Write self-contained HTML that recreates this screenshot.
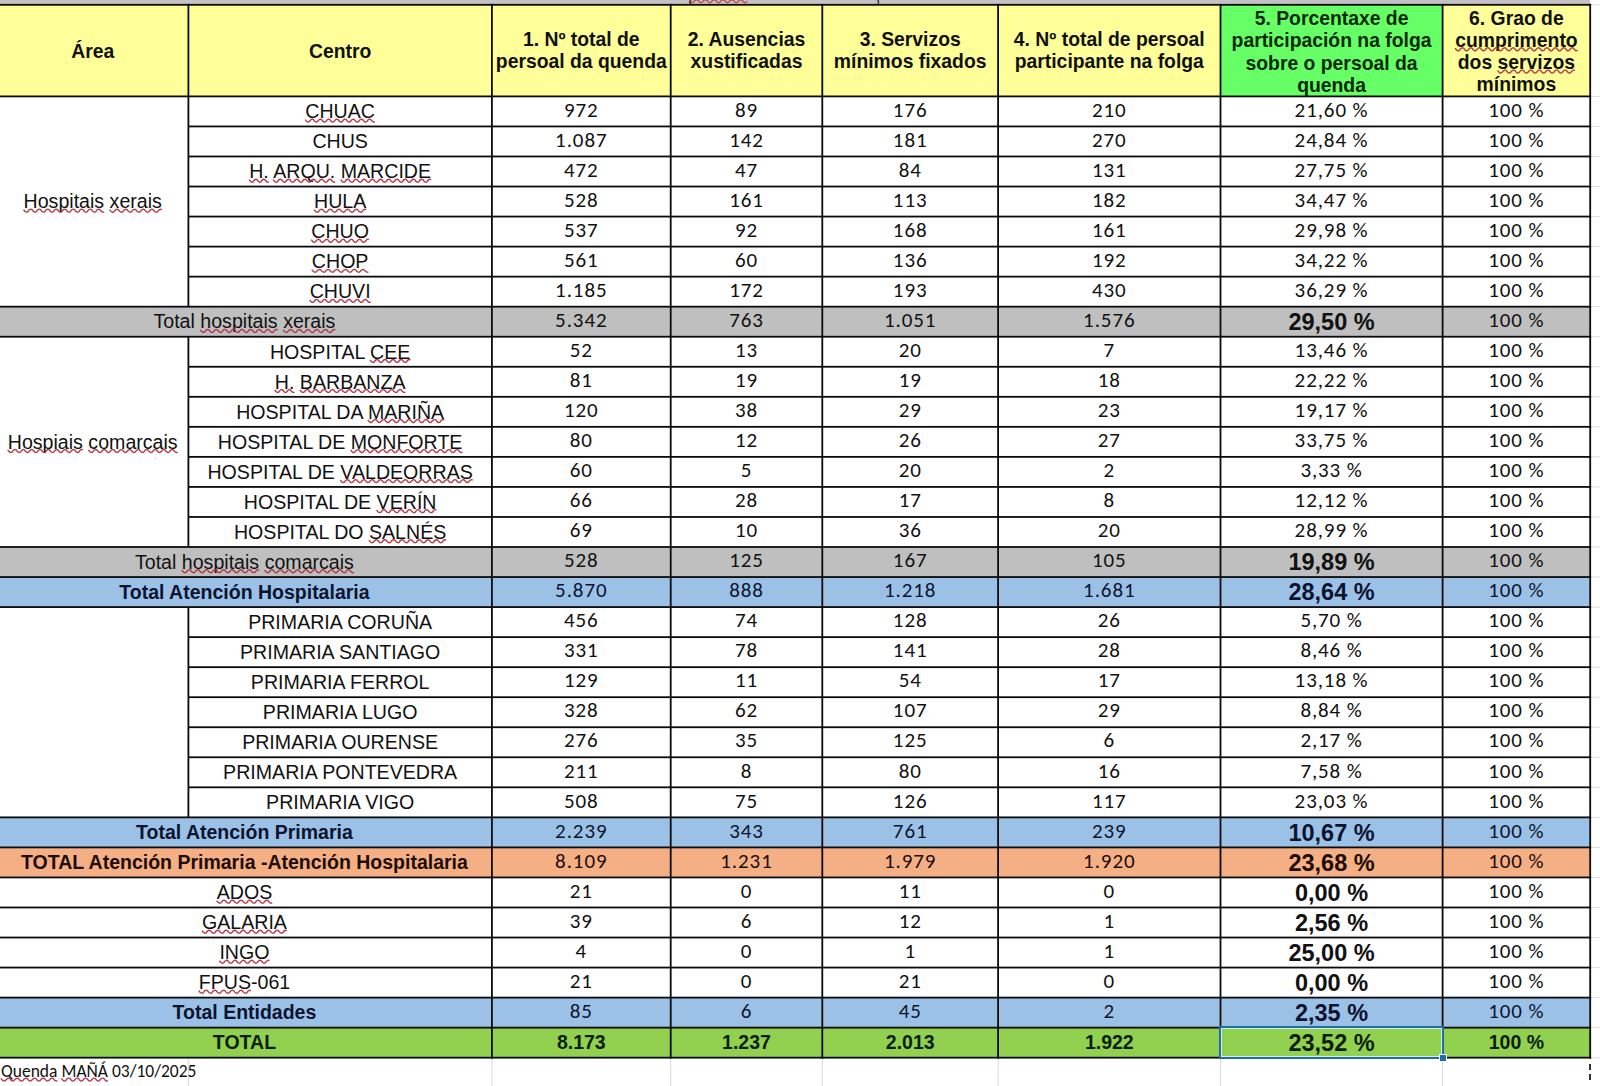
<!DOCTYPE html>
<html><head><meta charset="utf-8"><style>
html,body{margin:0;padding:0}
body{width:1600px;height:1086px;overflow:hidden;background:#fff;position:relative;font-family:"Liberation Sans", Arial, sans-serif}
.f{position:absolute}
.t{position:absolute;height:30px;line-height:30px;text-align:center;white-space:nowrap}
.a{font-family:"Liberation Sans", Arial, sans-serif;font-size:19.6px}
.ab{font-family:"Liberation Sans", Arial, sans-serif;font-size:19.5px;font-weight:bold}
.n{font-family:Carlito, Calibri, "Liberation Sans", sans-serif;font-size:21.0px;letter-spacing:0.9px}
.p{font-family:"Liberation Sans", Arial, sans-serif;font-size:23.5px;font-weight:bold}
.hd{font-family:"Liberation Sans", Arial, sans-serif;font-size:19.35px;font-weight:bold;color:#111}
.ft{font-family:Carlito, Calibri, "Liberation Sans", sans-serif;font-size:17.5px;color:#111}
.k{color:#111}
.g5{color:#062a06}
.nb{color:#0c1330}
.ob{color:#1e0c04}
.gb{color:#0b1f08}
u{text-decoration:none}
.top{position:absolute;left:0;top:0;width:1590px;height:5px;background:#c4c2c6}
</style></head><body>
<div class="top"></div>
<div class="f" style="left:-3.00px;top:4.80px;width:191.40px;height:91.60px;background:#ffff99"></div><div class="f" style="left:188.40px;top:4.80px;width:303.50px;height:91.60px;background:#ffff99"></div><div class="f" style="left:491.90px;top:4.80px;width:178.80px;height:91.60px;background:#ffff99"></div><div class="f" style="left:670.70px;top:4.80px;width:151.60px;height:91.60px;background:#ffff99"></div><div class="f" style="left:822.30px;top:4.80px;width:175.80px;height:91.60px;background:#ffff99"></div><div class="f" style="left:998.10px;top:4.80px;width:222.40px;height:91.60px;background:#ffff99"></div><div class="f" style="left:1220.50px;top:4.80px;width:222.10px;height:91.60px;background:#66ff66"></div><div class="f" style="left:1442.60px;top:4.80px;width:147.60px;height:91.60px;background:#ffff99"></div><div class="f" style="left:-3.00px;top:306.68px;width:1593.20px;height:30.04px;background:#bfbfbf"></div><div class="f" style="left:-3.00px;top:547.00px;width:1593.20px;height:30.04px;background:#bfbfbf"></div><div class="f" style="left:-3.00px;top:577.04px;width:1593.20px;height:30.04px;background:#9bc2e6"></div><div class="f" style="left:-3.00px;top:817.36px;width:1593.20px;height:30.04px;background:#9bc2e6"></div><div class="f" style="left:-3.00px;top:847.40px;width:1593.20px;height:30.04px;background:#f4b084"></div><div class="f" style="left:-3.00px;top:997.60px;width:1593.20px;height:30.04px;background:#9bc2e6"></div><div class="f" style="left:-3.00px;top:1027.64px;width:1593.20px;height:30.04px;background:#92d050"></div>
<svg width="1600" height="1086" style="position:absolute;left:0;top:0"><rect x="1591.00" y="95.90" width="9.00" height="1" fill="#dedede"/><rect x="1591.00" y="125.94" width="9.00" height="1" fill="#dedede"/><rect x="1591.00" y="155.98" width="9.00" height="1" fill="#dedede"/><rect x="1591.00" y="186.02" width="9.00" height="1" fill="#dedede"/><rect x="1591.00" y="216.06" width="9.00" height="1" fill="#dedede"/><rect x="1591.00" y="246.10" width="9.00" height="1" fill="#dedede"/><rect x="1591.00" y="276.14" width="9.00" height="1" fill="#dedede"/><rect x="1591.00" y="306.18" width="9.00" height="1" fill="#dedede"/><rect x="1591.00" y="336.22" width="9.00" height="1" fill="#dedede"/><rect x="1591.00" y="366.26" width="9.00" height="1" fill="#dedede"/><rect x="1591.00" y="396.30" width="9.00" height="1" fill="#dedede"/><rect x="1591.00" y="426.34" width="9.00" height="1" fill="#dedede"/><rect x="1591.00" y="456.38" width="9.00" height="1" fill="#dedede"/><rect x="1591.00" y="486.42" width="9.00" height="1" fill="#dedede"/><rect x="1591.00" y="516.46" width="9.00" height="1" fill="#dedede"/><rect x="1591.00" y="546.50" width="9.00" height="1" fill="#dedede"/><rect x="1591.00" y="576.54" width="9.00" height="1" fill="#dedede"/><rect x="1591.00" y="606.58" width="9.00" height="1" fill="#dedede"/><rect x="1591.00" y="636.62" width="9.00" height="1" fill="#dedede"/><rect x="1591.00" y="666.66" width="9.00" height="1" fill="#dedede"/><rect x="1591.00" y="696.70" width="9.00" height="1" fill="#dedede"/><rect x="1591.00" y="726.74" width="9.00" height="1" fill="#dedede"/><rect x="1591.00" y="756.78" width="9.00" height="1" fill="#dedede"/><rect x="1591.00" y="786.82" width="9.00" height="1" fill="#dedede"/><rect x="1591.00" y="816.86" width="9.00" height="1" fill="#dedede"/><rect x="1591.00" y="846.90" width="9.00" height="1" fill="#dedede"/><rect x="1591.00" y="876.94" width="9.00" height="1" fill="#dedede"/><rect x="1591.00" y="906.98" width="9.00" height="1" fill="#dedede"/><rect x="1591.00" y="937.02" width="9.00" height="1" fill="#dedede"/><rect x="1591.00" y="967.06" width="9.00" height="1" fill="#dedede"/><rect x="1591.00" y="997.10" width="9.00" height="1" fill="#dedede"/><rect x="1591.00" y="1027.14" width="9.00" height="1" fill="#dedede"/><rect x="1591.00" y="1057.18" width="9.00" height="1" fill="#dedede"/><rect x="1591.00" y="1087.22" width="9.00" height="1" fill="#dedede"/><rect x="1591.00" y="4.30" width="9.00" height="1" fill="#dedede"/><rect x="187.90" y="1057.68" width="1" height="28.32" fill="#d9d9d9"/><rect x="491.40" y="1057.68" width="1" height="28.32" fill="#d9d9d9"/><rect x="670.20" y="1057.68" width="1" height="28.32" fill="#d9d9d9"/><rect x="821.80" y="1057.68" width="1" height="28.32" fill="#d9d9d9"/><rect x="997.60" y="1057.68" width="1" height="28.32" fill="#d9d9d9"/><rect x="1220.00" y="1057.68" width="1" height="28.32" fill="#d9d9d9"/><rect x="1442.10" y="1057.68" width="1" height="28.32" fill="#d9d9d9"/><rect x="-3.00" y="3.90" width="1594.10" height="1.8" fill="#0b0b0b"/><rect x="-3.00" y="95.50" width="1594.10" height="1.8" fill="#0b0b0b"/><rect x="188.40" y="125.54" width="1402.70" height="1.8" fill="#0b0b0b"/><rect x="188.40" y="155.58" width="1402.70" height="1.8" fill="#0b0b0b"/><rect x="188.40" y="185.62" width="1402.70" height="1.8" fill="#0b0b0b"/><rect x="188.40" y="215.66" width="1402.70" height="1.8" fill="#0b0b0b"/><rect x="188.40" y="245.70" width="1402.70" height="1.8" fill="#0b0b0b"/><rect x="188.40" y="275.74" width="1402.70" height="1.8" fill="#0b0b0b"/><rect x="-3.00" y="305.78" width="1594.10" height="1.8" fill="#0b0b0b"/><rect x="-3.00" y="335.82" width="1594.10" height="1.8" fill="#0b0b0b"/><rect x="188.40" y="365.86" width="1402.70" height="1.8" fill="#0b0b0b"/><rect x="188.40" y="395.90" width="1402.70" height="1.8" fill="#0b0b0b"/><rect x="188.40" y="425.94" width="1402.70" height="1.8" fill="#0b0b0b"/><rect x="188.40" y="455.98" width="1402.70" height="1.8" fill="#0b0b0b"/><rect x="188.40" y="486.02" width="1402.70" height="1.8" fill="#0b0b0b"/><rect x="188.40" y="516.06" width="1402.70" height="1.8" fill="#0b0b0b"/><rect x="-3.00" y="546.10" width="1594.10" height="1.8" fill="#0b0b0b"/><rect x="-3.00" y="576.14" width="1594.10" height="1.8" fill="#0b0b0b"/><rect x="-3.00" y="606.18" width="1594.10" height="1.8" fill="#0b0b0b"/><rect x="188.40" y="636.22" width="1402.70" height="1.8" fill="#0b0b0b"/><rect x="188.40" y="666.26" width="1402.70" height="1.8" fill="#0b0b0b"/><rect x="188.40" y="696.30" width="1402.70" height="1.8" fill="#0b0b0b"/><rect x="188.40" y="726.34" width="1402.70" height="1.8" fill="#0b0b0b"/><rect x="188.40" y="756.38" width="1402.70" height="1.8" fill="#0b0b0b"/><rect x="188.40" y="786.42" width="1402.70" height="1.8" fill="#0b0b0b"/><rect x="-3.00" y="816.46" width="1594.10" height="1.8" fill="#0b0b0b"/><rect x="-3.00" y="846.50" width="1594.10" height="1.8" fill="#0b0b0b"/><rect x="-3.00" y="876.54" width="1594.10" height="1.8" fill="#0b0b0b"/><rect x="-3.00" y="906.58" width="1594.10" height="1.8" fill="#0b0b0b"/><rect x="-3.00" y="936.62" width="1594.10" height="1.8" fill="#0b0b0b"/><rect x="-3.00" y="966.66" width="1594.10" height="1.8" fill="#0b0b0b"/><rect x="-3.00" y="996.70" width="1594.10" height="1.8" fill="#0b0b0b"/><rect x="-3.00" y="1026.74" width="1594.10" height="1.8" fill="#0b0b0b"/><rect x="-3.00" y="1056.78" width="1594.10" height="1.8" fill="#0b0b0b"/><rect x="1589.30" y="3.90" width="1.8" height="1054.68" fill="#0b0b0b"/><rect x="491.00" y="3.90" width="1.8" height="1054.68" fill="#0b0b0b"/><rect x="669.80" y="3.90" width="1.8" height="1054.68" fill="#0b0b0b"/><rect x="821.40" y="3.90" width="1.8" height="1054.68" fill="#0b0b0b"/><rect x="997.20" y="3.90" width="1.8" height="1054.68" fill="#0b0b0b"/><rect x="1219.60" y="3.90" width="1.8" height="1054.68" fill="#0b0b0b"/><rect x="1441.70" y="3.90" width="1.8" height="1054.68" fill="#0b0b0b"/><rect x="187.50" y="3.90" width="1.8" height="92.50" fill="#0b0b0b"/><rect x="187.50" y="96.40" width="1.8" height="210.28" fill="#0b0b0b"/><rect x="187.50" y="336.72" width="1.8" height="210.28" fill="#0b0b0b"/><rect x="187.50" y="607.08" width="1.8" height="210.28" fill="#0b0b0b"/><rect x="1589" y="1064" width="2" height="6" fill="#333"/><rect x="1589" y="1074" width="2" height="6" fill="#333"/><path d="M690,1.2 q2.2,3 4.4,0 t4.4,0 t4.4,0 t4.4,0 t4.4,0 t4.4,0 t4.4,0 t4.4,0 t4.4,0 t4.4,0 t4.4,0 t4.4,0 t4.4,0" fill="none" stroke="#c04848" stroke-width="1.4"/><path d="M691.2,-0.5 Q688.6,2 690.8,4.3" fill="none" stroke="#3a2a2a" stroke-width="1.4"/><path d="M877.2,-0.5 Q879.8,1.8 877.6,4" fill="none" stroke="#3a3a3a" stroke-width="1.4"/></svg>
<div class="t hd" style="left:-37.30px;width:260px;top:36.09px">Área</div><div class="t hd" style="left:210.15px;width:260px;top:36.09px">Centro</div><div class="t hd" style="left:451.30px;width:260px;top:23.99px">1. Nº total de</div><div class="t hd" style="left:451.30px;width:260px;top:45.89px">persoal da quenda</div><div class="t hd" style="left:616.50px;width:260px;top:23.99px">2. Ausencias</div><div class="t hd" style="left:616.50px;width:260px;top:45.89px">xustificadas</div><div class="t hd" style="left:780.20px;width:260px;top:23.99px">3. Servizos</div><div class="t hd" style="left:780.20px;width:260px;top:45.89px">mínimos fixados</div><div class="t hd" style="left:979.30px;width:260px;top:23.99px">4. Nº total de persoal</div><div class="t hd" style="left:979.30px;width:260px;top:45.89px">participante na folga</div><div class="t hd g5" style="left:1201.55px;width:260px;top:2.79px">5. Porcentaxe de</div><div class="t hd g5" style="left:1201.55px;width:260px;top:25.29px">participación na folga</div><div class="t hd g5" style="left:1201.55px;width:260px;top:47.69px">sobre o persoal da</div><div class="t hd g5" style="left:1201.55px;width:260px;top:70.09px">quenda</div><div class="t hd" style="left:1386.40px;width:260px;top:2.89px">6. Grao de</div><div class="t hd" style="left:1386.40px;width:260px;top:24.79px"><u>cumprimento</u></div><div class="t hd" style="left:1386.40px;width:260px;top:47.09px">dos <u>servizos</u></div><div class="t hd" style="left:1386.40px;width:260px;top:69.49px">mínimos</div><div class="t a k" style="left:140.15px;width:400px;top:96.20px"><u>CHUAC</u></div><div class="t n k" style="left:481.30px;width:200px;top:94.62px">972</div><div class="t n k" style="left:646.50px;width:200px;top:94.62px">89</div><div class="t n k" style="left:810.20px;width:200px;top:94.62px">176</div><div class="t n k" style="left:1009.30px;width:200px;top:94.62px">210</div><div class="t n k" style="left:1221.55px;width:220px;top:94.62px">21,60 %</div><div class="t n k" style="left:1416.40px;width:200px;top:94.62px">100 %</div><div class="t a k" style="left:140.15px;width:400px;top:126.24px">CHUS</div><div class="t n k" style="left:481.30px;width:200px;top:124.66px">1.087</div><div class="t n k" style="left:646.50px;width:200px;top:124.66px">142</div><div class="t n k" style="left:810.20px;width:200px;top:124.66px">181</div><div class="t n k" style="left:1009.30px;width:200px;top:124.66px">270</div><div class="t n k" style="left:1221.55px;width:220px;top:124.66px">24,84 %</div><div class="t n k" style="left:1416.40px;width:200px;top:124.66px">100 %</div><div class="t a k" style="left:140.15px;width:400px;top:156.28px"><u>H.</u> <u>ARQU.</u> <u>MARCIDE</u></div><div class="t n k" style="left:481.30px;width:200px;top:154.70px">472</div><div class="t n k" style="left:646.50px;width:200px;top:154.70px">47</div><div class="t n k" style="left:810.20px;width:200px;top:154.70px">84</div><div class="t n k" style="left:1009.30px;width:200px;top:154.70px">131</div><div class="t n k" style="left:1221.55px;width:220px;top:154.70px">27,75 %</div><div class="t n k" style="left:1416.40px;width:200px;top:154.70px">100 %</div><div class="t a k" style="left:140.15px;width:400px;top:186.32px"><u>HULA</u></div><div class="t n k" style="left:481.30px;width:200px;top:184.74px">528</div><div class="t n k" style="left:646.50px;width:200px;top:184.74px">161</div><div class="t n k" style="left:810.20px;width:200px;top:184.74px">113</div><div class="t n k" style="left:1009.30px;width:200px;top:184.74px">182</div><div class="t n k" style="left:1221.55px;width:220px;top:184.74px">34,47 %</div><div class="t n k" style="left:1416.40px;width:200px;top:184.74px">100 %</div><div class="t a k" style="left:140.15px;width:400px;top:216.36px"><u>CHUO</u></div><div class="t n k" style="left:481.30px;width:200px;top:214.78px">537</div><div class="t n k" style="left:646.50px;width:200px;top:214.78px">92</div><div class="t n k" style="left:810.20px;width:200px;top:214.78px">168</div><div class="t n k" style="left:1009.30px;width:200px;top:214.78px">161</div><div class="t n k" style="left:1221.55px;width:220px;top:214.78px">29,98 %</div><div class="t n k" style="left:1416.40px;width:200px;top:214.78px">100 %</div><div class="t a k" style="left:140.15px;width:400px;top:246.40px"><u>CHOP</u></div><div class="t n k" style="left:481.30px;width:200px;top:244.82px">561</div><div class="t n k" style="left:646.50px;width:200px;top:244.82px">60</div><div class="t n k" style="left:810.20px;width:200px;top:244.82px">136</div><div class="t n k" style="left:1009.30px;width:200px;top:244.82px">192</div><div class="t n k" style="left:1221.55px;width:220px;top:244.82px">34,22 %</div><div class="t n k" style="left:1416.40px;width:200px;top:244.82px">100 %</div><div class="t a k" style="left:140.15px;width:400px;top:276.44px"><u>CHUVI</u></div><div class="t n k" style="left:481.30px;width:200px;top:274.86px">1.185</div><div class="t n k" style="left:646.50px;width:200px;top:274.86px">172</div><div class="t n k" style="left:810.20px;width:200px;top:274.86px">193</div><div class="t n k" style="left:1009.30px;width:200px;top:274.86px">430</div><div class="t n k" style="left:1221.55px;width:220px;top:274.86px">36,29 %</div><div class="t n k" style="left:1416.40px;width:200px;top:274.86px">100 %</div><div class="t a k" style="left:-55.55px;width:600px;top:306.48px">Total <u>hospitais</u> <u>xerais</u></div><div class="t n k" style="left:481.30px;width:200px;top:304.90px">5.342</div><div class="t n k" style="left:646.50px;width:200px;top:304.90px">763</div><div class="t n k" style="left:810.20px;width:200px;top:304.90px">1.051</div><div class="t n k" style="left:1009.30px;width:200px;top:304.90px">1.576</div><div class="t p k" style="left:1221.55px;width:220px;top:306.93px">29,50 %</div><div class="t n k" style="left:1416.40px;width:200px;top:304.90px">100 %</div><div class="t a k" style="left:140.15px;width:400px;top:336.52px">HOSPITAL <u>CEE</u></div><div class="t n k" style="left:481.30px;width:200px;top:334.94px">52</div><div class="t n k" style="left:646.50px;width:200px;top:334.94px">13</div><div class="t n k" style="left:810.20px;width:200px;top:334.94px">20</div><div class="t n k" style="left:1009.30px;width:200px;top:334.94px">7</div><div class="t n k" style="left:1221.55px;width:220px;top:334.94px">13,46 %</div><div class="t n k" style="left:1416.40px;width:200px;top:334.94px">100 %</div><div class="t a k" style="left:140.15px;width:400px;top:366.56px"><u>H.</u> <u>BARBANZA</u></div><div class="t n k" style="left:481.30px;width:200px;top:364.98px">81</div><div class="t n k" style="left:646.50px;width:200px;top:364.98px">19</div><div class="t n k" style="left:810.20px;width:200px;top:364.98px">19</div><div class="t n k" style="left:1009.30px;width:200px;top:364.98px">18</div><div class="t n k" style="left:1221.55px;width:220px;top:364.98px">22,22 %</div><div class="t n k" style="left:1416.40px;width:200px;top:364.98px">100 %</div><div class="t a k" style="left:140.15px;width:400px;top:396.60px">HOSPITAL DA <u>MARIÑA</u></div><div class="t n k" style="left:481.30px;width:200px;top:395.02px">120</div><div class="t n k" style="left:646.50px;width:200px;top:395.02px">38</div><div class="t n k" style="left:810.20px;width:200px;top:395.02px">29</div><div class="t n k" style="left:1009.30px;width:200px;top:395.02px">23</div><div class="t n k" style="left:1221.55px;width:220px;top:395.02px">19,17 %</div><div class="t n k" style="left:1416.40px;width:200px;top:395.02px">100 %</div><div class="t a k" style="left:140.15px;width:400px;top:426.64px">HOSPITAL DE <u>MONFORTE</u></div><div class="t n k" style="left:481.30px;width:200px;top:425.06px">80</div><div class="t n k" style="left:646.50px;width:200px;top:425.06px">12</div><div class="t n k" style="left:810.20px;width:200px;top:425.06px">26</div><div class="t n k" style="left:1009.30px;width:200px;top:425.06px">27</div><div class="t n k" style="left:1221.55px;width:220px;top:425.06px">33,75 %</div><div class="t n k" style="left:1416.40px;width:200px;top:425.06px">100 %</div><div class="t a k" style="left:140.15px;width:400px;top:456.68px">HOSPITAL DE <u>VALDEORRAS</u></div><div class="t n k" style="left:481.30px;width:200px;top:455.10px">60</div><div class="t n k" style="left:646.50px;width:200px;top:455.10px">5</div><div class="t n k" style="left:810.20px;width:200px;top:455.10px">20</div><div class="t n k" style="left:1009.30px;width:200px;top:455.10px">2</div><div class="t n k" style="left:1221.55px;width:220px;top:455.10px">3,33 %</div><div class="t n k" style="left:1416.40px;width:200px;top:455.10px">100 %</div><div class="t a k" style="left:140.15px;width:400px;top:486.72px">HOSPITAL DE <u>VERÍN</u></div><div class="t n k" style="left:481.30px;width:200px;top:485.14px">66</div><div class="t n k" style="left:646.50px;width:200px;top:485.14px">28</div><div class="t n k" style="left:810.20px;width:200px;top:485.14px">17</div><div class="t n k" style="left:1009.30px;width:200px;top:485.14px">8</div><div class="t n k" style="left:1221.55px;width:220px;top:485.14px">12,12 %</div><div class="t n k" style="left:1416.40px;width:200px;top:485.14px">100 %</div><div class="t a k" style="left:140.15px;width:400px;top:516.76px">HOSPITAL DO <u>SALNÉS</u></div><div class="t n k" style="left:481.30px;width:200px;top:515.18px">69</div><div class="t n k" style="left:646.50px;width:200px;top:515.18px">10</div><div class="t n k" style="left:810.20px;width:200px;top:515.18px">36</div><div class="t n k" style="left:1009.30px;width:200px;top:515.18px">20</div><div class="t n k" style="left:1221.55px;width:220px;top:515.18px">28,99 %</div><div class="t n k" style="left:1416.40px;width:200px;top:515.18px">100 %</div><div class="t a k" style="left:-55.55px;width:600px;top:546.80px">Total <u>hospitais</u> <u>comarcais</u></div><div class="t n k" style="left:481.30px;width:200px;top:545.22px">528</div><div class="t n k" style="left:646.50px;width:200px;top:545.22px">125</div><div class="t n k" style="left:810.20px;width:200px;top:545.22px">167</div><div class="t n k" style="left:1009.30px;width:200px;top:545.22px">105</div><div class="t p k" style="left:1221.55px;width:220px;top:547.25px">19,89 %</div><div class="t n k" style="left:1416.40px;width:200px;top:545.22px">100 %</div><div class="t ab nb" style="left:-55.55px;width:600px;top:576.88px">Total Atención Hospitalaria</div><div class="t n nb" style="left:481.30px;width:200px;top:575.26px">5.870</div><div class="t n nb" style="left:646.50px;width:200px;top:575.26px">888</div><div class="t n nb" style="left:810.20px;width:200px;top:575.26px">1.218</div><div class="t n nb" style="left:1009.30px;width:200px;top:575.26px">1.681</div><div class="t p nb" style="left:1221.55px;width:220px;top:577.29px">28,64 %</div><div class="t n nb" style="left:1416.40px;width:200px;top:575.26px">100 %</div><div class="t a k" style="left:140.15px;width:400px;top:606.88px">PRIMARIA CORUÑA</div><div class="t n k" style="left:481.30px;width:200px;top:605.30px">456</div><div class="t n k" style="left:646.50px;width:200px;top:605.30px">74</div><div class="t n k" style="left:810.20px;width:200px;top:605.30px">128</div><div class="t n k" style="left:1009.30px;width:200px;top:605.30px">26</div><div class="t n k" style="left:1221.55px;width:220px;top:605.30px">5,70 %</div><div class="t n k" style="left:1416.40px;width:200px;top:605.30px">100 %</div><div class="t a k" style="left:140.15px;width:400px;top:636.92px">PRIMARIA SANTIAGO</div><div class="t n k" style="left:481.30px;width:200px;top:635.34px">331</div><div class="t n k" style="left:646.50px;width:200px;top:635.34px">78</div><div class="t n k" style="left:810.20px;width:200px;top:635.34px">141</div><div class="t n k" style="left:1009.30px;width:200px;top:635.34px">28</div><div class="t n k" style="left:1221.55px;width:220px;top:635.34px">8,46 %</div><div class="t n k" style="left:1416.40px;width:200px;top:635.34px">100 %</div><div class="t a k" style="left:140.15px;width:400px;top:666.96px">PRIMARIA FERROL</div><div class="t n k" style="left:481.30px;width:200px;top:665.38px">129</div><div class="t n k" style="left:646.50px;width:200px;top:665.38px">11</div><div class="t n k" style="left:810.20px;width:200px;top:665.38px">54</div><div class="t n k" style="left:1009.30px;width:200px;top:665.38px">17</div><div class="t n k" style="left:1221.55px;width:220px;top:665.38px">13,18 %</div><div class="t n k" style="left:1416.40px;width:200px;top:665.38px">100 %</div><div class="t a k" style="left:140.15px;width:400px;top:697.00px">PRIMARIA LUGO</div><div class="t n k" style="left:481.30px;width:200px;top:695.42px">328</div><div class="t n k" style="left:646.50px;width:200px;top:695.42px">62</div><div class="t n k" style="left:810.20px;width:200px;top:695.42px">107</div><div class="t n k" style="left:1009.30px;width:200px;top:695.42px">29</div><div class="t n k" style="left:1221.55px;width:220px;top:695.42px">8,84 %</div><div class="t n k" style="left:1416.40px;width:200px;top:695.42px">100 %</div><div class="t a k" style="left:140.15px;width:400px;top:727.04px">PRIMARIA OURENSE</div><div class="t n k" style="left:481.30px;width:200px;top:725.46px">276</div><div class="t n k" style="left:646.50px;width:200px;top:725.46px">35</div><div class="t n k" style="left:810.20px;width:200px;top:725.46px">125</div><div class="t n k" style="left:1009.30px;width:200px;top:725.46px">6</div><div class="t n k" style="left:1221.55px;width:220px;top:725.46px">2,17 %</div><div class="t n k" style="left:1416.40px;width:200px;top:725.46px">100 %</div><div class="t a k" style="left:140.15px;width:400px;top:757.08px">PRIMARIA PONTEVEDRA</div><div class="t n k" style="left:481.30px;width:200px;top:755.50px">211</div><div class="t n k" style="left:646.50px;width:200px;top:755.50px">8</div><div class="t n k" style="left:810.20px;width:200px;top:755.50px">80</div><div class="t n k" style="left:1009.30px;width:200px;top:755.50px">16</div><div class="t n k" style="left:1221.55px;width:220px;top:755.50px">7,58 %</div><div class="t n k" style="left:1416.40px;width:200px;top:755.50px">100 %</div><div class="t a k" style="left:140.15px;width:400px;top:787.12px">PRIMARIA VIGO</div><div class="t n k" style="left:481.30px;width:200px;top:785.54px">508</div><div class="t n k" style="left:646.50px;width:200px;top:785.54px">75</div><div class="t n k" style="left:810.20px;width:200px;top:785.54px">126</div><div class="t n k" style="left:1009.30px;width:200px;top:785.54px">117</div><div class="t n k" style="left:1221.55px;width:220px;top:785.54px">23,03 %</div><div class="t n k" style="left:1416.40px;width:200px;top:785.54px">100 %</div><div class="t ab nb" style="left:-55.55px;width:600px;top:817.20px">Total Atención Primaria</div><div class="t n nb" style="left:481.30px;width:200px;top:815.58px">2.239</div><div class="t n nb" style="left:646.50px;width:200px;top:815.58px">343</div><div class="t n nb" style="left:810.20px;width:200px;top:815.58px">761</div><div class="t n nb" style="left:1009.30px;width:200px;top:815.58px">239</div><div class="t p nb" style="left:1221.55px;width:220px;top:817.61px">10,67 %</div><div class="t n nb" style="left:1416.40px;width:200px;top:815.58px">100 %</div><div class="t ab ob" style="left:-55.55px;width:600px;top:847.24px">TOTAL Atención Primaria -Atención Hospitalaria</div><div class="t n ob" style="left:481.30px;width:200px;top:845.62px">8.109</div><div class="t n ob" style="left:646.50px;width:200px;top:845.62px">1.231</div><div class="t n ob" style="left:810.20px;width:200px;top:845.62px">1.979</div><div class="t n ob" style="left:1009.30px;width:200px;top:845.62px">1.920</div><div class="t p ob" style="left:1221.55px;width:220px;top:847.65px">23,68 %</div><div class="t n ob" style="left:1416.40px;width:200px;top:845.62px">100 %</div><div class="t a k" style="left:-55.55px;width:600px;top:877.24px"><u>ADOS</u></div><div class="t n k" style="left:481.30px;width:200px;top:875.66px">21</div><div class="t n k" style="left:646.50px;width:200px;top:875.66px">0</div><div class="t n k" style="left:810.20px;width:200px;top:875.66px">11</div><div class="t n k" style="left:1009.30px;width:200px;top:875.66px">0</div><div class="t p k" style="left:1221.55px;width:220px;top:877.69px">0,00 %</div><div class="t n k" style="left:1416.40px;width:200px;top:875.66px">100 %</div><div class="t a k" style="left:-55.55px;width:600px;top:907.28px"><u>GALARIA</u></div><div class="t n k" style="left:481.30px;width:200px;top:905.70px">39</div><div class="t n k" style="left:646.50px;width:200px;top:905.70px">6</div><div class="t n k" style="left:810.20px;width:200px;top:905.70px">12</div><div class="t n k" style="left:1009.30px;width:200px;top:905.70px">1</div><div class="t p k" style="left:1221.55px;width:220px;top:907.73px">2,56 %</div><div class="t n k" style="left:1416.40px;width:200px;top:905.70px">100 %</div><div class="t a k" style="left:-55.55px;width:600px;top:937.32px"><u>INGO</u></div><div class="t n k" style="left:481.30px;width:200px;top:935.74px">4</div><div class="t n k" style="left:646.50px;width:200px;top:935.74px">0</div><div class="t n k" style="left:810.20px;width:200px;top:935.74px">1</div><div class="t n k" style="left:1009.30px;width:200px;top:935.74px">1</div><div class="t p k" style="left:1221.55px;width:220px;top:937.77px">25,00 %</div><div class="t n k" style="left:1416.40px;width:200px;top:935.74px">100 %</div><div class="t a k" style="left:-55.55px;width:600px;top:967.36px"><u>FPUS</u>-061</div><div class="t n k" style="left:481.30px;width:200px;top:965.78px">21</div><div class="t n k" style="left:646.50px;width:200px;top:965.78px">0</div><div class="t n k" style="left:810.20px;width:200px;top:965.78px">21</div><div class="t n k" style="left:1009.30px;width:200px;top:965.78px">0</div><div class="t p k" style="left:1221.55px;width:220px;top:967.81px">0,00 %</div><div class="t n k" style="left:1416.40px;width:200px;top:965.78px">100 %</div><div class="t ab nb" style="left:-55.55px;width:600px;top:997.44px">Total Entidades</div><div class="t n nb" style="left:481.30px;width:200px;top:995.82px">85</div><div class="t n nb" style="left:646.50px;width:200px;top:995.82px">6</div><div class="t n nb" style="left:810.20px;width:200px;top:995.82px">45</div><div class="t n nb" style="left:1009.30px;width:200px;top:995.82px">2</div><div class="t p nb" style="left:1221.55px;width:220px;top:997.85px">2,35 %</div><div class="t n nb" style="left:1416.40px;width:200px;top:995.82px">100 %</div><div class="t ab gb" style="left:-55.55px;width:600px;top:1027.48px">TOTAL</div><div class="t ab gb" style="left:481.30px;width:200px;top:1027.48px">8.173</div><div class="t ab gb" style="left:646.50px;width:200px;top:1027.48px">1.237</div><div class="t ab gb" style="left:810.20px;width:200px;top:1027.48px">2.013</div><div class="t ab gb" style="left:1009.30px;width:200px;top:1027.48px">1.922</div><div class="t p gb" style="left:1221.55px;width:220px;top:1027.89px">23,52 %</div><div class="t ab gb" style="left:1416.40px;width:200px;top:1027.48px">100 %</div><div class="t a k" style="left:-2.30px;width:190px;top:186.24px"><u>Hospitais</u> <u>xerais</u></div><div class="t a k" style="left:-2.30px;width:190px;top:426.56px"><u>Hospiais</u> <u>comarcais</u></div><div class="t ft" style="left:0.00px;width:0px;top:1055.70px;text-align:left;left:1px;width:auto"><u>Quenda</u> <u>MAÑÁ</u> 03/10/2025</div>
<svg width="1600" height="1086" style="position:absolute;left:0;top:0"><g fill="none" stroke="#b02838" stroke-width="1.45" stroke-opacity="0.9"><path d="M1455.12,48.18 Q1457.24,51.70 1459.35,50.38 Q1461.46,46.86 1463.58,48.18 Q1465.69,51.70 1467.80,50.38 Q1469.91,46.86 1472.03,48.18 Q1474.14,51.70 1476.25,50.38 Q1478.36,46.86 1480.48,48.18 Q1482.59,51.70 1484.70,50.38 Q1486.81,46.86 1488.93,48.18 Q1491.04,51.70 1493.15,50.38 Q1495.26,46.86 1497.38,48.18 Q1499.49,51.70 1501.60,50.38 Q1503.71,46.86 1505.83,48.18 Q1507.94,51.70 1510.05,50.38 Q1512.17,46.86 1514.28,48.18 Q1516.39,51.70 1518.50,50.38 Q1520.62,46.86 1522.73,48.18 Q1524.84,51.70 1526.95,50.38 Q1529.07,46.86 1531.18,48.18 Q1533.29,51.70 1535.40,50.38 Q1537.52,46.86 1539.63,48.18 Q1541.74,51.70 1543.85,50.38 Q1545.97,46.86 1548.08,48.18 Q1550.19,51.70 1552.30,50.38 Q1554.42,46.86 1556.53,48.18 Q1558.64,51.70 1560.76,50.38 Q1562.87,46.86 1564.98,48.18 Q1567.09,51.70 1569.21,50.38 Q1571.32,46.86 1573.43,48.18 Q1575.54,51.70 1577.66,50.38"/><path d="M1497.55,70.48 Q1499.70,74.00 1501.85,72.68 Q1504.00,69.16 1506.15,70.48 Q1508.30,74.00 1510.45,72.68 Q1512.60,69.16 1514.76,70.48 Q1516.91,74.00 1519.06,72.68 Q1521.21,69.16 1523.36,70.48 Q1525.51,74.00 1527.66,72.68 Q1529.81,69.16 1531.96,70.48 Q1534.11,74.00 1536.27,72.68 Q1538.42,69.16 1540.57,70.48 Q1542.72,74.00 1544.87,72.68 Q1547.02,69.16 1549.17,70.48 Q1551.32,74.00 1553.47,72.68 Q1555.62,69.16 1557.78,70.48 Q1559.93,74.00 1562.08,72.68 Q1564.23,69.16 1566.38,70.48 Q1568.53,74.00 1570.68,72.68 Q1572.83,69.16 1574.98,70.48"/><path d="M305.30,119.53 Q307.35,123.05 309.40,121.73 Q311.44,118.21 313.49,119.53 Q315.54,123.05 317.59,121.73 Q319.64,118.21 321.69,119.53 Q323.74,123.05 325.79,121.73 Q327.84,118.21 329.89,119.53 Q331.94,123.05 333.99,121.73 Q336.03,118.21 338.08,119.53 Q340.13,123.05 342.18,121.73 Q344.23,118.21 346.28,119.53 Q348.33,123.05 350.38,121.73 Q352.43,118.21 354.48,119.53 Q356.53,123.05 358.58,121.73 Q360.62,118.21 362.67,119.53 Q364.72,123.05 366.77,121.73 Q368.82,118.21 370.87,119.53 Q372.92,123.05 374.97,121.73"/><path d="M249.22,179.61 Q251.18,183.13 253.14,181.81 Q255.10,178.29 257.06,179.61 Q259.02,183.13 260.98,181.81 Q262.93,178.29 264.89,179.61 Q266.85,183.13 268.81,181.81"/><path d="M273.19,179.61 Q275.26,183.13 277.32,181.81 Q279.39,178.29 281.46,179.61 Q283.53,183.13 285.60,181.81 Q287.67,178.29 289.74,179.61 Q291.81,183.13 293.88,181.81 Q295.94,178.29 298.01,179.61 Q300.08,183.13 302.15,181.81 Q304.22,178.29 306.29,179.61 Q308.36,183.13 310.43,181.81 Q312.49,178.29 314.56,179.61 Q316.63,183.13 318.70,181.81 Q320.77,178.29 322.84,179.61 Q324.91,183.13 326.98,181.81 Q329.04,178.29 331.11,179.61 Q333.18,183.13 335.25,181.81"/><path d="M340.70,179.61 Q342.76,183.13 344.81,181.81 Q346.86,178.29 348.92,179.61 Q350.97,183.13 353.02,181.81 Q355.08,178.29 357.13,179.61 Q359.19,183.13 361.24,181.81 Q363.29,178.29 365.35,179.61 Q367.40,183.13 369.45,181.81 Q371.51,178.29 373.56,179.61 Q375.61,183.13 377.67,181.81 Q379.72,178.29 381.78,179.61 Q383.83,183.13 385.88,181.81 Q387.94,178.29 389.99,179.61 Q392.04,183.13 394.10,181.81 Q396.15,178.29 398.20,179.61 Q400.26,183.13 402.31,181.81 Q404.37,178.29 406.42,179.61 Q408.47,183.13 410.53,181.81 Q412.58,178.29 414.63,179.61 Q416.69,183.13 418.74,181.81 Q420.79,178.29 422.85,179.61 Q424.90,183.13 426.96,181.81 Q429.01,178.29 431.06,179.61"/><path d="M314.00,209.66 Q316.18,213.18 318.36,211.86 Q320.54,208.34 322.71,209.66 Q324.89,213.18 327.07,211.86 Q329.25,208.34 331.43,209.66 Q333.61,213.18 335.78,211.86 Q337.96,208.34 340.14,209.66 Q342.32,213.18 344.50,211.86 Q346.68,208.34 348.85,209.66 Q351.03,213.18 353.21,211.86 Q355.39,208.34 357.57,209.66 Q359.75,213.18 361.92,211.86 Q364.10,208.34 366.28,209.66"/><path d="M311.28,239.71 Q313.34,243.23 315.40,241.91 Q317.46,238.39 319.52,239.71 Q321.59,243.23 323.65,241.91 Q325.71,238.39 327.77,239.71 Q329.83,243.23 331.89,241.91 Q333.95,238.39 336.01,239.71 Q338.07,243.23 340.13,241.91 Q342.19,238.39 344.25,239.71 Q346.32,243.23 348.38,241.91 Q350.44,238.39 352.50,239.71 Q354.56,243.23 356.62,241.91 Q358.68,238.39 360.74,239.71 Q362.80,243.23 364.86,241.91 Q366.92,238.39 368.98,239.71"/><path d="M311.83,269.74 Q314.01,273.26 316.18,271.94 Q318.36,268.42 320.54,269.74 Q322.72,273.26 324.90,271.94 Q327.07,268.42 329.25,269.74 Q331.43,273.26 333.61,271.94 Q335.78,268.42 337.96,269.74 Q340.14,273.26 342.32,271.94 Q344.50,268.42 346.67,269.74 Q348.85,273.26 351.03,271.94 Q353.21,268.42 355.39,269.74 Q357.56,273.26 359.74,271.94 Q361.92,268.42 364.10,269.74 Q366.28,273.26 368.45,271.94"/><path d="M309.66,299.78 Q311.69,303.30 313.72,301.98 Q315.75,298.46 317.79,299.78 Q319.82,303.30 321.85,301.98 Q323.88,298.46 325.91,299.78 Q327.95,303.30 329.98,301.98 Q332.01,298.46 334.04,299.78 Q336.08,303.30 338.11,301.98 Q340.14,298.46 342.17,299.78 Q344.21,303.30 346.24,301.98 Q348.27,298.46 350.30,299.78 Q352.33,303.30 354.37,301.98 Q356.40,298.46 358.43,299.78 Q360.46,303.30 362.50,301.98 Q364.53,298.46 366.56,299.78 Q368.59,303.30 370.62,301.98"/><path d="M200.33,329.82 Q202.48,333.34 204.62,332.02 Q206.77,328.50 208.92,329.82 Q211.07,333.34 213.22,332.02 Q215.37,328.50 217.52,329.82 Q219.66,333.34 221.81,332.02 Q223.96,328.50 226.11,329.82 Q228.26,333.34 230.41,332.02 Q232.55,328.50 234.70,329.82 Q236.85,333.34 239.00,332.02 Q241.15,328.50 243.30,329.82 Q245.45,333.34 247.59,332.02 Q249.74,328.50 251.89,329.82 Q254.04,333.34 256.19,332.02 Q258.34,328.50 260.48,329.82 Q262.63,333.34 264.78,332.02 Q266.93,328.50 269.08,329.82 Q271.23,333.34 273.38,332.02 Q275.52,328.50 277.67,329.82"/><path d="M283.12,329.82 Q285.30,333.34 287.48,332.02 Q289.66,328.50 291.84,329.82 Q294.02,333.34 296.20,332.02 Q298.37,328.50 300.55,329.82 Q302.73,333.34 304.91,332.02 Q307.09,328.50 309.27,329.82 Q311.44,333.34 313.62,332.02 Q315.80,328.50 317.98,329.82 Q320.16,333.34 322.34,332.02 Q324.51,328.50 326.69,329.82 Q328.87,333.34 331.05,332.02 Q333.23,328.50 335.41,329.82"/><path d="M370.08,359.86 Q372.09,363.38 374.11,362.06 Q376.12,358.54 378.14,359.86 Q380.15,363.38 382.17,362.06 Q384.18,358.54 386.20,359.86 Q388.21,363.38 390.23,362.06 Q392.24,358.54 394.26,359.86 Q396.27,363.38 398.29,362.06 Q400.30,358.54 402.32,359.86 Q404.33,363.38 406.35,362.06 Q408.36,358.54 410.38,359.86"/><path d="M274.80,389.89 Q276.76,393.41 278.72,392.09 Q280.68,388.57 282.63,389.89 Q284.59,393.41 286.55,392.09 Q288.51,388.57 290.47,389.89 Q292.43,393.41 294.39,392.09"/><path d="M299.84,389.89 Q301.96,393.41 304.07,392.09 Q306.18,388.57 308.29,389.89 Q310.41,393.41 312.52,392.09 Q314.63,388.57 316.74,389.89 Q318.86,393.41 320.97,392.09 Q323.08,388.57 325.19,389.89 Q327.31,393.41 329.42,392.09 Q331.53,388.57 333.64,389.89 Q335.76,393.41 337.87,392.09 Q339.98,388.57 342.09,389.89 Q344.21,393.41 346.32,392.09 Q348.43,388.57 350.54,389.89 Q352.66,393.41 354.77,392.09 Q356.88,388.57 358.99,389.89 Q361.11,393.41 363.22,392.09 Q365.33,388.57 367.44,389.89 Q369.56,393.41 371.67,392.09 Q373.78,388.57 375.89,389.89 Q378.01,393.41 380.12,392.09 Q382.23,388.57 384.34,389.89 Q386.46,393.41 388.57,392.09 Q390.68,388.57 392.79,389.89 Q394.91,393.41 397.02,392.09 Q399.13,388.57 401.24,389.89 Q403.36,393.41 405.47,392.09"/><path d="M367.91,419.94 Q370.02,423.46 372.14,422.14 Q374.26,418.62 376.38,419.94 Q378.49,423.46 380.61,422.14 Q382.73,418.62 384.84,419.94 Q386.96,423.46 389.08,422.14 Q391.20,418.62 393.31,419.94 Q395.43,423.46 397.55,422.14 Q399.66,418.62 401.78,419.94 Q403.90,423.46 406.02,422.14 Q408.13,418.62 410.25,419.94 Q412.37,423.46 414.48,422.14 Q416.60,418.62 418.72,419.94 Q420.84,423.46 422.95,422.14 Q425.07,418.62 427.19,419.94 Q429.30,423.46 431.42,422.14 Q433.54,418.62 435.66,419.94 Q437.77,423.46 439.89,422.14 Q442.01,418.62 444.12,419.94"/><path d="M350.67,449.97 Q352.74,453.49 354.81,452.17 Q356.88,448.65 358.95,449.97 Q361.02,453.49 363.09,452.17 Q365.16,448.65 367.23,449.97 Q369.30,453.49 371.37,452.17 Q373.44,448.65 375.51,449.97 Q377.58,453.49 379.65,452.17 Q381.72,448.65 383.79,449.97 Q385.86,453.49 387.93,452.17 Q390.00,448.65 392.07,449.97 Q394.14,453.49 396.21,452.17 Q398.28,448.65 400.35,449.97 Q402.42,453.49 404.48,452.17 Q406.55,448.65 408.62,449.97 Q410.69,453.49 412.76,452.17 Q414.83,448.65 416.90,449.97 Q418.97,453.49 421.04,452.17 Q423.11,448.65 425.18,449.97 Q427.25,453.49 429.32,452.17 Q431.39,448.65 433.46,449.97 Q435.53,453.49 437.60,452.17 Q439.67,448.65 441.74,449.97 Q443.81,453.49 445.88,452.17 Q447.95,448.65 450.02,449.97 Q452.09,453.49 454.16,452.17 Q456.23,448.65 458.30,449.97 Q460.37,453.49 462.44,452.17"/><path d="M340.31,480.02 Q342.38,483.54 344.45,482.22 Q346.52,478.70 348.59,480.02 Q350.66,483.54 352.73,482.22 Q354.80,478.70 356.87,480.02 Q358.94,483.54 361.01,482.22 Q363.08,478.70 365.15,480.02 Q367.22,483.54 369.29,482.22 Q371.36,478.70 373.43,480.02 Q375.50,483.54 377.57,482.22 Q379.64,478.70 381.71,480.02 Q383.78,483.54 385.85,482.22 Q387.92,478.70 389.99,480.02 Q392.06,483.54 394.13,482.22 Q396.20,478.70 398.27,480.02 Q400.34,483.54 402.41,482.22 Q404.48,478.70 406.55,480.02 Q408.62,483.54 410.69,482.22 Q412.76,478.70 414.83,480.02 Q416.91,483.54 418.98,482.22 Q421.05,478.70 423.12,480.02 Q425.19,483.54 427.26,482.22 Q429.33,478.70 431.40,480.02 Q433.47,483.54 435.54,482.22 Q437.61,478.70 439.68,480.02 Q441.75,483.54 443.82,482.22 Q445.89,478.70 447.96,480.02 Q450.03,483.54 452.10,482.22 Q454.17,478.70 456.24,480.02 Q458.31,483.54 460.38,482.22 Q462.45,478.70 464.52,480.02 Q466.59,483.54 468.66,482.22 Q470.73,478.70 472.80,480.02"/><path d="M376.61,510.07 Q378.75,513.59 380.89,512.27 Q383.03,508.75 385.17,510.07 Q387.30,513.59 389.44,512.27 Q391.58,508.75 393.72,510.07 Q395.86,513.59 398.00,512.27 Q400.14,508.75 402.28,510.07 Q404.42,513.59 406.55,512.27 Q408.69,508.75 410.83,510.07 Q412.97,513.59 415.11,512.27 Q417.25,508.75 419.39,510.07 Q421.53,513.59 423.67,512.27 Q425.81,508.75 427.94,510.07 Q430.08,513.59 432.22,512.27 Q434.36,508.75 436.50,510.07"/><path d="M368.98,540.10 Q371.13,543.62 373.28,542.30 Q375.43,538.78 377.58,540.10 Q379.72,543.62 381.87,542.30 Q384.02,538.78 386.17,540.10 Q388.32,543.62 390.46,542.30 Q392.61,538.78 394.76,540.10 Q396.91,543.62 399.06,542.30 Q401.20,538.78 403.35,540.10 Q405.50,543.62 407.65,542.30 Q409.80,538.78 411.94,540.10 Q414.09,543.62 416.24,542.30 Q418.39,538.78 420.54,540.10 Q422.68,543.62 424.83,542.30 Q426.98,538.78 429.13,540.10 Q431.28,543.62 433.42,542.30 Q435.57,538.78 437.72,540.10 Q439.87,543.62 442.02,542.30 Q444.16,538.78 446.31,540.10"/><path d="M181.83,570.14 Q183.98,573.66 186.12,572.34 Q188.27,568.82 190.42,570.14 Q192.57,573.66 194.72,572.34 Q196.87,568.82 199.02,570.14 Q201.16,573.66 203.31,572.34 Q205.46,568.82 207.61,570.14 Q209.76,573.66 211.91,572.34 Q214.05,568.82 216.20,570.14 Q218.35,573.66 220.50,572.34 Q222.65,568.82 224.80,570.14 Q226.95,573.66 229.09,572.34 Q231.24,568.82 233.39,570.14 Q235.54,573.66 237.69,572.34 Q239.84,568.82 241.98,570.14 Q244.13,573.66 246.28,572.34 Q248.43,568.82 250.58,570.14 Q252.73,573.66 254.88,572.34 Q257.02,568.82 259.17,570.14"/><path d="M264.62,570.14 Q266.75,573.66 268.88,572.34 Q271.00,568.82 273.13,570.14 Q275.26,573.66 277.38,572.34 Q279.51,568.82 281.63,570.14 Q283.76,573.66 285.89,572.34 Q288.01,568.82 290.14,570.14 Q292.26,573.66 294.39,572.34 Q296.52,568.82 298.64,570.14 Q300.77,573.66 302.90,572.34 Q305.02,568.82 307.15,570.14 Q309.27,573.66 311.40,572.34 Q313.53,568.82 315.65,570.14 Q317.78,573.66 319.90,572.34 Q322.03,568.82 324.16,570.14 Q326.28,573.66 328.41,572.34 Q330.53,568.82 332.66,570.14 Q334.79,573.66 336.91,572.34 Q339.04,568.82 341.17,570.14 Q343.29,573.66 345.42,572.34 Q347.54,568.82 349.67,570.14 Q351.80,573.66 353.92,572.34"/><path d="M216.69,900.58 Q218.82,904.10 220.96,902.78 Q223.09,899.26 225.23,900.58 Q227.37,904.10 229.50,902.78 Q231.64,899.26 233.77,900.58 Q235.91,904.10 238.05,902.78 Q240.18,899.26 242.32,900.58 Q244.45,904.10 246.59,902.78 Q248.72,899.26 250.86,900.58 Q253.00,904.10 255.13,902.78 Q257.27,899.26 259.40,900.58 Q261.54,904.10 263.68,902.78 Q265.81,899.26 267.95,900.58 Q270.08,904.10 272.22,902.78"/><path d="M201.97,930.61 Q204.09,934.13 206.22,932.81 Q208.34,929.29 210.46,930.61 Q212.59,934.13 214.71,932.81 Q216.84,929.29 218.96,930.61 Q221.08,934.13 223.21,932.81 Q225.33,929.29 227.45,930.61 Q229.58,934.13 231.70,932.81 Q233.83,929.29 235.95,930.61 Q238.07,934.13 240.20,932.81 Q242.32,929.29 244.45,930.61 Q246.57,934.13 248.69,932.81 Q250.82,929.29 252.94,930.61 Q255.06,934.13 257.19,932.81 Q259.31,929.29 261.44,930.61 Q263.56,934.13 265.68,932.81 Q267.81,929.29 269.93,930.61 Q272.06,934.13 274.18,932.81 Q276.30,929.29 278.43,930.61 Q280.55,934.13 282.67,932.81 Q284.80,929.29 286.92,930.61"/><path d="M219.41,960.66 Q221.49,964.18 223.58,962.86 Q225.67,959.34 227.75,960.66 Q229.84,964.18 231.93,962.86 Q234.01,959.34 236.10,960.66 Q238.19,964.18 240.27,962.86 Q242.36,959.34 244.45,960.66 Q246.53,964.18 248.62,962.86 Q250.71,959.34 252.79,960.66 Q254.88,964.18 256.96,962.86 Q259.05,959.34 261.14,960.66 Q263.22,964.18 265.31,962.86 Q267.40,959.34 269.48,960.66"/><path d="M198.70,990.71 Q200.88,994.23 203.06,992.91 Q205.24,989.39 207.41,990.71 Q209.59,994.23 211.77,992.91 Q213.95,989.39 216.12,990.71 Q218.30,994.23 220.48,992.91 Q222.66,989.39 224.84,990.71 Q227.01,994.23 229.19,992.91 Q231.37,989.39 233.55,990.71 Q235.72,994.23 237.90,992.91 Q240.08,989.39 242.26,990.71 Q244.44,994.23 246.61,992.91 Q248.79,989.39 250.97,990.71"/><path d="M23.53,209.58 Q25.65,213.10 27.77,211.78 Q29.89,208.26 32.01,209.58 Q34.14,213.10 36.26,211.78 Q38.38,208.26 40.50,209.58 Q42.62,213.10 44.74,211.78 Q46.86,208.26 48.98,209.58 Q51.10,213.10 53.22,211.78 Q55.34,208.26 57.47,209.58 Q59.59,213.10 61.71,211.78 Q63.83,208.26 65.95,209.58 Q68.07,213.10 70.19,211.78 Q72.31,208.26 74.43,209.58 Q76.55,213.10 78.67,211.78 Q80.80,208.26 82.92,209.58 Q85.04,213.10 87.16,211.78 Q89.28,208.26 91.40,209.58 Q93.52,213.10 95.64,211.78 Q97.76,208.26 99.88,209.58 Q102.00,213.10 104.12,211.78"/><path d="M109.58,209.58 Q111.76,213.10 113.93,211.78 Q116.11,208.26 118.29,209.58 Q120.47,213.10 122.65,211.78 Q124.83,208.26 127.01,209.58 Q129.18,213.10 131.36,211.78 Q133.54,208.26 135.72,209.58 Q137.90,213.10 140.08,211.78 Q142.25,208.26 144.43,209.58 Q146.61,213.10 148.79,211.78 Q150.97,208.26 153.15,209.58 Q155.32,213.10 157.50,211.78 Q159.68,208.26 161.86,209.58"/><path d="M7.75,449.89 Q9.84,453.41 11.93,452.09 Q14.01,448.57 16.10,449.89 Q18.19,453.41 20.28,452.09 Q22.36,448.57 24.45,449.89 Q26.54,453.41 28.63,452.09 Q30.71,448.57 32.80,449.89 Q34.89,453.41 36.98,452.09 Q39.07,448.57 41.15,449.89 Q43.24,453.41 45.33,452.09 Q47.42,448.57 49.50,449.89 Q51.59,453.41 53.68,452.09 Q55.77,448.57 57.85,449.89 Q59.94,453.41 62.03,452.09 Q64.12,448.57 66.20,449.89 Q68.29,453.41 70.38,452.09 Q72.47,448.57 74.56,449.89 Q76.64,453.41 78.73,452.09 Q80.82,448.57 82.91,449.89"/><path d="M88.36,449.89 Q90.49,453.41 92.61,452.09 Q94.74,448.57 96.86,449.89 Q98.99,453.41 101.12,452.09 Q103.24,448.57 105.37,449.89 Q107.49,453.41 109.62,452.09 Q111.75,448.57 113.87,449.89 Q116.00,453.41 118.12,452.09 Q120.25,448.57 122.38,449.89 Q124.50,453.41 126.63,452.09 Q128.76,448.57 130.88,449.89 Q133.01,453.41 135.13,452.09 Q137.26,448.57 139.39,449.89 Q141.51,453.41 143.64,452.09 Q145.76,448.57 147.89,449.89 Q150.02,453.41 152.14,452.09 Q154.27,448.57 156.40,449.89 Q158.52,453.41 160.65,452.09 Q162.77,448.57 164.90,449.89 Q167.03,453.41 169.15,452.09 Q171.28,448.57 173.40,449.89 Q175.53,453.41 177.66,452.09"/><path d="M1.00,1078.49 Q3.17,1082.01 5.34,1080.69 Q7.51,1077.17 9.69,1078.49 Q11.86,1082.01 14.03,1080.69 Q16.20,1077.17 18.37,1078.49 Q20.54,1082.01 22.71,1080.69 Q24.88,1077.17 27.06,1078.49 Q29.23,1082.01 31.40,1080.69 Q33.57,1077.17 35.74,1078.49 Q37.91,1082.01 40.08,1080.69 Q42.25,1077.17 44.43,1078.49 Q46.60,1082.01 48.77,1080.69 Q50.94,1077.17 53.11,1078.49 Q55.28,1082.01 57.45,1080.69"/><path d="M61.42,1078.49 Q63.54,1082.01 65.65,1080.69 Q67.76,1077.17 69.88,1078.49 Q71.99,1082.01 74.11,1080.69 Q76.22,1077.17 78.34,1078.49 Q80.45,1082.01 82.57,1080.69 Q84.68,1077.17 86.79,1078.49 Q88.91,1082.01 91.02,1080.69 Q93.14,1077.17 95.25,1078.49 Q97.37,1082.01 99.48,1080.69 Q101.59,1077.17 103.71,1078.49 Q105.82,1082.01 107.94,1080.69"/></g></svg>
<div style="position:absolute;box-sizing:border-box;left:1219.20px;top:1026.34px;width:224.70px;height:32.64px;border:2.2px solid #1f6fa6;box-shadow:inset 0 0 0 1px #d4eef0"></div>
<div style="position:absolute;left:1439.10px;top:1054.18px;width:6px;height:6px;background:#1f6fa6;border:1px solid #fff"></div>
</body></html>
